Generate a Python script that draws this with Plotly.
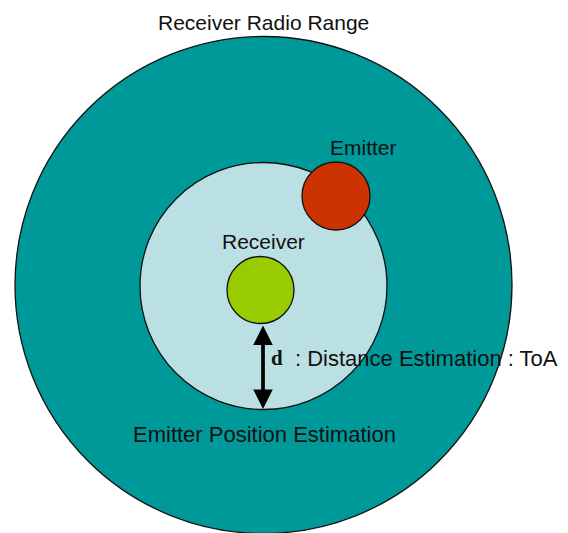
import plotly.graph_objects as go

# Circle data (pixel coordinates of the diagram, y downward)
circle_names = ["Receiver Radio Range", "Emitter Position Estimation", "Emitter", "Receiver"]
circle_cx = [263.5, 263.5, 336, 260.5]
circle_cy = [285, 286, 196, 290]
circle_r = [248.5, 123.5, 34, 33.5]
circle_fill = ["#009999", "#BBE0E3", "#CC3300", "#99CC00"]

# Labels
label_text = ["Receiver Radio Range", "Emitter", "Receiver", "Emitter Position Estimation",
              ": Distance Estimation : ToA"]
label_x = [263.5, 363, 263, 264, 293]
label_y = [22, 147, 241, 434, 358]
label_anchor = ["center", "center", "center", "center", "left"]
label_size = [21, 21, 21, 22, 22]

# Distance arrow (from receiver edge to inner circle edge)
arrow_x = 263
arrow_y0 = 324
arrow_y1 = 409

PAGE_W, PAGE_H = 568, 533
OFF = 8  # page body margin
W, H = PAGE_W - OFF, PAGE_H - OFF
fig = go.Figure()
fig.add_trace(go.Scatter(x=[OFF, PAGE_W], y=[OFF, PAGE_H], mode="markers", marker=dict(opacity=0),
                         hoverinfo="skip", showlegend=False))

for cx, cy, r, fc in zip(circle_cx, circle_cy, circle_r, circle_fill):
    fig.add_shape(type="circle", xref="x", yref="y",
                  x0=cx - r, x1=cx + r, y0=cy - r, y1=cy + r,
                  fillcolor=fc, line=dict(color="#111111", width=1.3), layer="above")

fig.add_shape(type="line", xref="x", yref="y", x0=arrow_x, x1=arrow_x,
              y0=arrow_y0 + 12, y1=arrow_y1 - 12, line=dict(color="black", width=3.5))
fig.add_annotation(x=arrow_x, y=arrow_y1, ax=arrow_x, ay=arrow_y0, xref="x", yref="y",
                   axref="x", ayref="y", text="", showarrow=True, arrowhead=2,
                   arrowside="end+start", arrowwidth=3, arrowsize=1.3, arrowcolor="black")

for t, x, y, a, s in zip(label_text, label_x, label_y, label_anchor, label_size):
    fig.add_annotation(x=x, y=y, xref="x", yref="y", text=t, showarrow=False,
                       xanchor=a, yanchor="middle",
                       font=dict(family="Liberation Sans, Arial, sans-serif", size=s, color="#111111"))

fig.add_annotation(x=269, y=358, xref="x", yref="y", text="<b>d</b>", showarrow=False,
                   xanchor="left", yanchor="middle",
                   font=dict(family="Liberation Serif, Times New Roman, serif", size=21, color="#111111"))

fig.update_layout(width=W, height=H, autosize=False, margin=dict(l=0, r=0, t=0, b=0),
                  paper_bgcolor="white", plot_bgcolor="white",
                  xaxis=dict(range=[OFF, PAGE_W], visible=False, fixedrange=True),
                  yaxis=dict(range=[PAGE_H, OFF], visible=False, fixedrange=True),
                  showlegend=False)

fig.write_html("out.html", config={"displayModeBar": False})
